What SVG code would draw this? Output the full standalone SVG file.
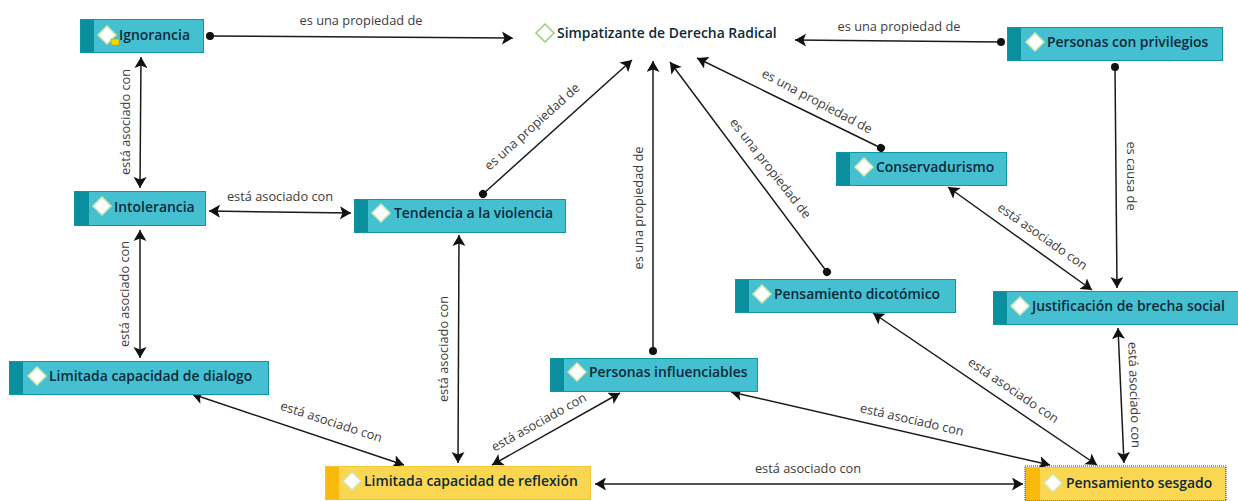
<svg xmlns="http://www.w3.org/2000/svg" width="1238" height="501" viewBox="0 0 1238 501">
<style>
.b{fill:#45c0d0;stroke:#0f95a5;stroke-width:1}
.s{fill:#0a8f9f}
.by{fill:#fbd650;stroke:#f6c532;stroke-width:1}
.sy{fill:#fbb80e}
.d{fill:#fff;stroke:#cfe8b0;stroke-width:1.5}
.n{font-family:"Open Sans","Noto Sans","Liberation Sans",sans-serif;font-size:13.9px;font-weight:600;fill:#0c2a3a}
.l{font-family:"Open Sans","Noto Sans","Liberation Sans",sans-serif;font-size:12.8px;fill:#3c3c3c}
.c{fill:none;stroke:#1a1a1a;stroke-width:1.5}
.e{marker-end:url(#a)}
.x{marker-start:url(#ar)}
.o{marker-start:url(#o)}
</style>
<defs>
<marker id="a" markerUnits="userSpaceOnUse" markerWidth="14" markerHeight="14" refX="11" refY="6.500" orient="auto"><path d="M0 0L11 6.500L0 13L2.500 6.500Z" fill="#111"/></marker>
<marker id="ar" markerUnits="userSpaceOnUse" markerWidth="14" markerHeight="14" refX="0" refY="6.500" orient="auto"><path d="M11 0L0 6.500L11 13L8.500 6.500Z" fill="#111"/></marker>
<marker id="o" markerUnits="userSpaceOnUse" markerWidth="10" markerHeight="10" refX="5" refY="5" orient="auto"><circle cx="5" cy="5" r="4" fill="#111"/></marker>
</defs>
<rect width="1238" height="501" fill="#fff"/>
<g id="connectors">
<path class="c o e" d="M210 36L513 38"/>
<path class="c o e" d="M1001 42L795 40"/>
<path class="c x e" d="M141 57L140 188"/>
<path class="c x e" d="M209 211L351 213"/>
<path class="c x e" d="M140 230L140 358"/>
<path class="c o e" d="M483 194L632 60"/>
<path class="c x e" d="M459 235L458 463"/>
<path class="c x e" d="M192 394L404 465"/>
<path class="c o e" d="M653 351L653 61"/>
<path class="c x e" d="M492 465L620 393"/>
<path class="c x e" d="M731 392L1050 465"/>
<path class="c x e" d="M595 484L1023 484"/>
<path class="c x e" d="M873 313L1097 465"/>
<path class="c x e" d="M1118 328L1124 463"/>
<path class="c o e" d="M827 272L670 62"/>
<path class="c o e" d="M881 148L697 58"/>
<path class="c x e" d="M948 187L1092 290"/>
<path class="c o e" d="M1115 67L1117 288"/>
<g class="labels">
<text class="l" x="361" y="25" text-anchor="middle">es una propiedad de</text>
<text class="l" x="899" y="31" text-anchor="middle">es una propiedad de</text>
<text class="l" transform="translate(130 122) rotate(-90)" text-anchor="middle">está asociado con</text>
<text class="l" x="280" y="201" text-anchor="middle">está asociado con</text>
<text class="l" transform="translate(129 294) rotate(-90)" text-anchor="middle">está asociado con</text>
<text class="l" transform="translate(535 130) rotate(-42)" text-anchor="middle">es una propiedad de</text>
<text class="l" transform="translate(448 349) rotate(-90)" text-anchor="middle">está asociado con</text>
<text class="l" transform="translate(330 426) rotate(18)" text-anchor="middle">está asociado con</text>
<text class="l" transform="translate(643 208) rotate(-90)" text-anchor="middle">es una propiedad de</text>
<text class="l" transform="translate(541 426) rotate(-29)" text-anchor="middle">está asociado con</text>
<text class="l" x="808" y="473" text-anchor="middle">está asociado con</text>
<text class="l" transform="translate(911 424) rotate(13)" text-anchor="middle">está asociado con</text>
<text class="l" transform="translate(1011 394) rotate(34)" text-anchor="middle">está asociado con</text>
<text class="l" transform="translate(1130 395) rotate(88)" text-anchor="middle">está asociado con</text>
<text class="l" transform="translate(767 171) rotate(52)" text-anchor="middle">es una propiedad de</text>
<text class="l" transform="translate(815 105) rotate(28)" text-anchor="middle">es una propiedad de</text>
<text class="l" transform="translate(1040 240) rotate(35)" text-anchor="middle">está asociado con</text>
<text class="l" transform="translate(1127 176) rotate(90)" text-anchor="middle">es causa de</text>
</g>
</g>
<g id="simpatizante"><path class="d" d="M545 24L554 33L545 42L536 33Z" style="stroke:#9ccb7c"/><text class="n" x="557" y="38">Simpatizante de Derecha Radical</text></g>
<g id="ignorancia"><rect class="b" x="80.500" y="19.500" width="123" height="33"/><rect class="s" x="81" y="20" width="13" height="32"/><path class="d" d="M107 26L116 35L107 44L98 35Z"/><rect x="111" y="39" width="8" height="6" fill="#f3d800" stroke="#b79b00" stroke-width=".6"/><text class="n" x="119" y="40">Ignorancia</text></g>
<g id="intolerancia"><rect class="b" x="74.500" y="191.500" width="131" height="34"/><rect class="s" x="75" y="192" width="14" height="33"/><path class="d" d="M102 197L111 206L102 215L93 206Z"/><text class="n" x="114" y="212">Intolerancia</text></g>
<g id="tendencia"><rect class="b" x="354.500" y="199.500" width="211" height="33"/><rect class="s" x="355" y="200" width="13" height="32"/><path class="d" d="M381 204L390 213L381 222L372 213Z"/><text class="n" x="394" y="218">Tendencia a la violencia</text></g>
<g id="limitada-dialogo"><rect class="b" x="9.500" y="361.500" width="259" height="33"/><rect class="s" x="10" y="362" width="13" height="32"/><path class="d" d="M37 367L46 376L37 385L28 376Z"/><text class="n" x="49" y="381">Limitada capacidad de dialogo</text></g>
<g id="limitada-reflexion"><rect class="by" x="325.500" y="466.500" width="265" height="33"/><rect class="sy" x="326" y="467" width="13" height="32"/><path class="d" d="M352 472L361 481L352 490L343 481Z"/><text class="n" x="364" y="486">Limitada capacidad de reflexión</text></g>
<g id="personas-influenciables"><rect class="b" x="550.500" y="358.500" width="207" height="33"/><rect class="s" x="551" y="359" width="13" height="32"/><path class="d" d="M577 363L586 372L577 381L568 372Z"/><text class="n" x="589" y="377">Personas influenciables</text></g>
<g id="pensamiento-dicotomico"><rect class="b" x="735.500" y="279.500" width="220" height="33"/><rect class="s" x="736" y="280" width="13" height="32"/><path class="d" d="M762 285L771 294L762 303L753 294Z"/><text class="n" x="774" y="299">Pensamiento dicotómico</text></g>
<g id="justificacion"><rect class="b" x="993.500" y="291.500" width="245" height="33"/><rect class="s" x="994" y="292" width="13" height="32"/><path class="d" d="M1020 297L1029 306L1020 315L1011 306Z"/><text class="n" x="1032" y="311">Justificación de brecha social</text></g>
<g id="conservadurismo"><rect class="b" x="836.500" y="152.500" width="170" height="33"/><rect class="s" x="837" y="153" width="13" height="32"/><path class="d" d="M864 158L873 167L864 176L855 167Z"/><text class="n" x="876" y="172">Conservadurismo</text></g>
<g id="personas-privilegios"><rect class="b" x="1007.500" y="27.500" width="215" height="33"/><rect class="s" x="1008" y="28" width="13" height="32"/><path class="d" d="M1035 33L1044 42L1035 51L1026 42Z"/><text class="n" x="1047" y="47">Personas con privilegios</text></g>
<g id="pensamiento-sesgado"><rect class="by" x="1025.500" y="467.500" width="200" height="33"/><rect class="sy" x="1026" y="468" width="14" height="33"/><rect x="1025" y="466" width="201" height="35" fill="none" stroke="#333" stroke-width="1" stroke-dasharray="1 1"/><path class="d" d="M1053 474L1062 483L1053 492L1044 483Z"/><text class="n" x="1066" y="488">Pensamiento sesgado</text></g>
</svg>
